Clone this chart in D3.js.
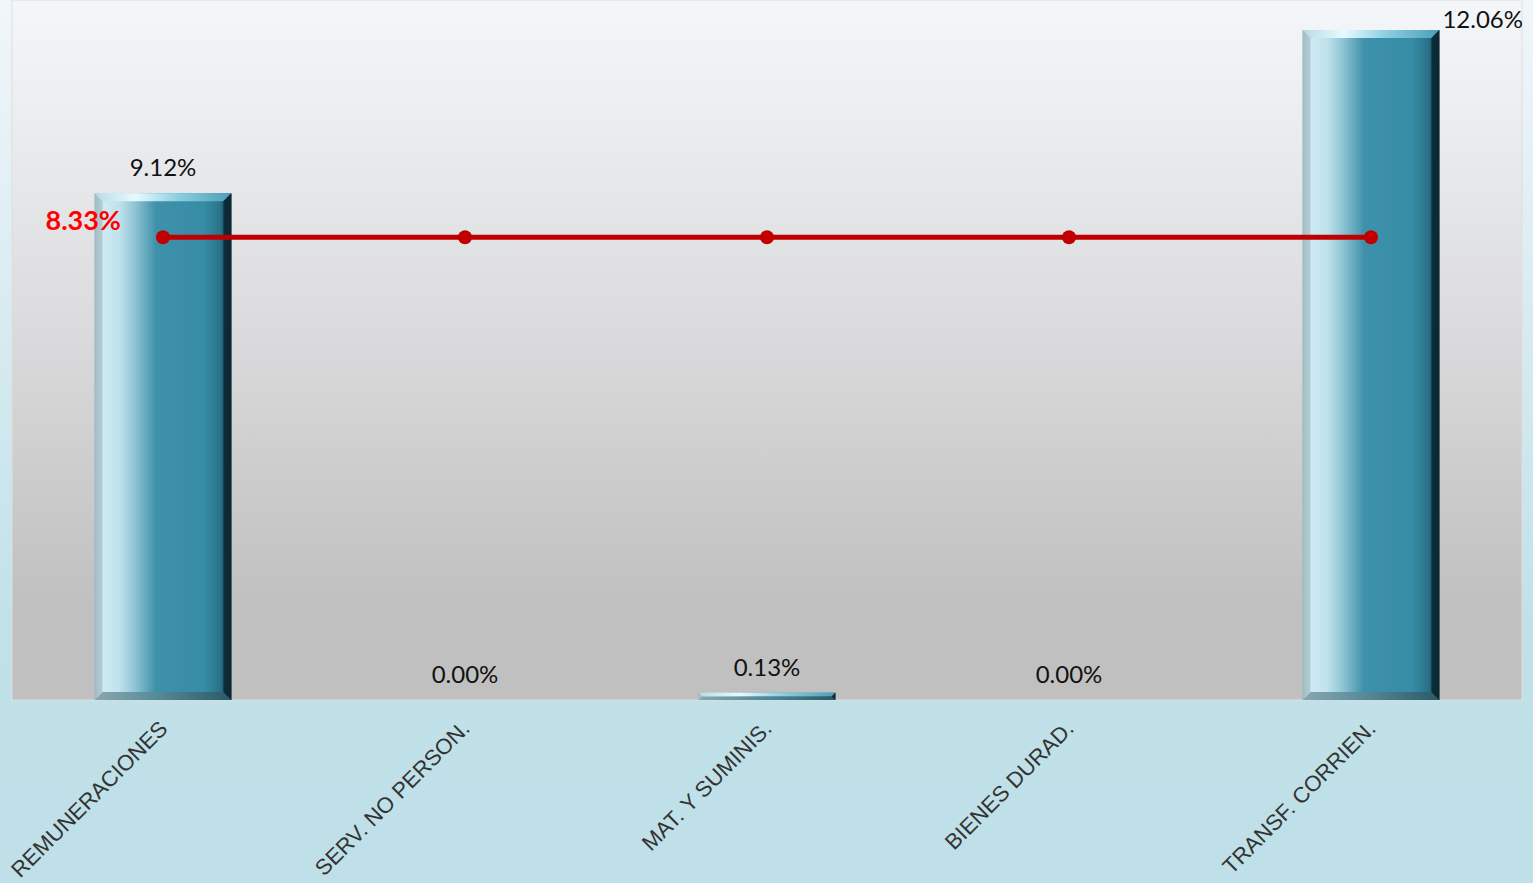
<!DOCTYPE html>
<html>
<head>
<meta charset="utf-8">
<script src="https://cdn.jsdelivr.net/npm/d3@7"></script>
<style>
  body { margin: 0; overflow: hidden; }
</style>
</head>
<body>
<script>
// data
var categories = ["REMUNERACIONES", "SERV. NO PERSON.", "MAT. Y SUMINIS.", "BIENES DURAD.", "TRANSF. CORRIEN."];
var barValues = [9.12, 0.00, 0.13, 0.00, 12.06];
var lineValues = [8.33, 8.33, 8.33, 8.33, 8.33];
var barLabels = ["9.12%", "0.00%", "0.13%", "0.00%", "12.06%"];
var lineLabel = "8.33%";

var w = 1533, h = 883;
var plot = {left: 12, right: 1522, top: 0, bottom: 700};

var svg = d3.select("body").append("svg")
    .attr("width", w)
    .attr("height", h);

var defs = svg.append("defs");

var outerGrad = defs.append("linearGradient").attr("id", "outerGrad")
    .attr("x1", 0).attr("y1", 0).attr("x2", 0).attr("y2", 1);
outerGrad.append("stop").attr("offset", "0%").attr("stop-color", "#f1f6fa");
outerGrad.append("stop").attr("offset", "70%").attr("stop-color", "#c1e1e9");
outerGrad.append("stop").attr("offset", "100%").attr("stop-color", "#bfe0e8");

var plotGrad = defs.append("linearGradient").attr("id", "plotGrad")
    .attr("x1", 0).attr("y1", 0).attr("x2", 0).attr("y2", 1);
plotGrad.append("stop").attr("offset", "0%").attr("stop-color", "#f4f7fa");
plotGrad.append("stop").attr("offset", "45%").attr("stop-color", "#dcdcde");
plotGrad.append("stop").attr("offset", "85%").attr("stop-color", "#c1c1c1");
plotGrad.append("stop").attr("offset", "100%").attr("stop-color", "#c0c0c0");

// bar face: light left, teal middle, dark right edge
var barGrad = defs.append("linearGradient").attr("id", "barGrad")
    .attr("x1", 0).attr("y1", 0).attr("x2", 1).attr("y2", 0);
barGrad.append("stop").attr("offset", "0%").attr("stop-color", "#8fa9b0");
barGrad.append("stop").attr("offset", "6%").attr("stop-color", "#cfebf3");
barGrad.append("stop").attr("offset", "18%").attr("stop-color", "#bfe2ec");
barGrad.append("stop").attr("offset", "30%").attr("stop-color", "#8cc2d2");
barGrad.append("stop").attr("offset", "45%").attr("stop-color", "#3e91aa");
barGrad.append("stop").attr("offset", "80%").attr("stop-color", "#378ca6");
barGrad.append("stop").attr("offset", "92%").attr("stop-color", "#2a7288");
barGrad.append("stop").attr("offset", "100%").attr("stop-color", "#0c2b36");

var topGrad = defs.append("linearGradient").attr("id", "topGrad")
    .attr("x1", 0).attr("y1", 0).attr("x2", 1).attr("y2", 0);
topGrad.append("stop").attr("offset", "0%").attr("stop-color", "#b8dbe4");
topGrad.append("stop").attr("offset", "30%").attr("stop-color", "#e6fbff");
topGrad.append("stop").attr("offset", "60%").attr("stop-color", "#8fd0e2");
topGrad.append("stop").attr("offset", "100%").attr("stop-color", "#4a9fb6");

var botGrad = defs.append("linearGradient").attr("id", "botGrad")
    .attr("x1", 0).attr("y1", 0).attr("x2", 1).attr("y2", 0);
botGrad.append("stop").attr("offset", "0%").attr("stop-color", "#8aa7b0");
botGrad.append("stop").attr("offset", "40%").attr("stop-color", "#5d8e9c");
botGrad.append("stop").attr("offset", "100%").attr("stop-color", "#2a5a68");

// backgrounds
svg.append("rect").attr("width", w).attr("height", h).attr("fill", "url(#outerGrad)");
svg.append("rect")
    .attr("x", plot.left).attr("y", plot.top)
    .attr("width", plot.right - plot.left).attr("height", plot.bottom - plot.top)
    .attr("fill", "url(#plotGrad)")
    .attr("stroke", "#e0dede").attr("stroke-width", 1);

// scales
var x = d3.scaleBand()
    .domain(categories)
    .range([plot.left, plot.right])
    .paddingInner(0.547)
    .paddingOuter(0.2735);

var y = d3.scaleLinear()
    .domain([0, 12.6])
    .range([plot.bottom, plot.top]);

// bars with bevel
var bars = svg.append("g").selectAll("g.bar")
    .data(categories.map((c, i) => ({cat: c, v: barValues[i], label: barLabels[i]})))
    .enter().append("g").attr("class", "bar");

bars.filter(d => d.v > 0).each(function (d) {
    var g = d3.select(this);
    var x0 = x(d.cat), x1 = x(d.cat) + x.bandwidth();
    var y0 = y(d.v), y1 = y(0);
    var b = Math.min(8, (y1 - y0) / 2);
    g.append("rect")
        .attr("x", x0).attr("y", y0)
        .attr("width", x1 - x0).attr("height", y1 - y0)
        .attr("fill", "url(#barGrad)");
    // top bevel
    g.append("path")
        .attr("d", `M${x0},${y0}L${x1},${y0}L${x1 - b},${y0 + b}L${x0 + b},${y0 + b}Z`)
        .attr("fill", "url(#topGrad)");
    // bottom bevel
    g.append("path")
        .attr("d", `M${x0},${y1}L${x1},${y1}L${x1 - b},${y1 - b}L${x0 + b},${y1 - b}Z`)
        .attr("fill", "url(#botGrad)");
    // left bevel
    g.append("path")
        .attr("d", `M${x0},${y0}L${x0 + b},${y0 + b}L${x0 + b},${y1 - b}L${x0},${y1}Z`)
        .attr("fill", "#a9c3ca").attr("opacity", 0.7);
    // right bevel
    g.append("path")
        .attr("d", `M${x1},${y0}L${x1 - b},${y0 + b}L${x1 - b},${y1 - b}L${x1},${y1}Z`)
        .attr("fill", "#0a2630").attr("opacity", 0.85);
});

// bar value labels
bars.append("text")
    .attr("x", (d, i) => i === 4 ? plot.right + 1 : x(d.cat) + x.bandwidth() / 2)
    .attr("y", (d, i) => i === 4 ? 28 : y(d.v) - 17)
    .attr("text-anchor", (d, i) => i === 4 ? "end" : "middle")
    .attr("font-family", "Lato, 'Open Sans', sans-serif")
    .attr("font-size", "24px")
    .attr("fill", "#111")
    .text(d => d.label);

// line series
var cx = d => x(d) + x.bandwidth() / 2;
var line = d3.line()
    .x((d, i) => cx(categories[i]))
    .y(d => y(d));

svg.append("path")
    .datum(lineValues)
    .attr("d", line)
    .attr("fill", "none")
    .attr("stroke", "#c00000")
    .attr("stroke-width", 5);

svg.append("g").selectAll("circle")
    .data(lineValues)
    .enter().append("circle")
    .attr("cx", (d, i) => cx(categories[i]))
    .attr("cy", d => y(d))
    .attr("r", 7)
    .attr("fill", "#c00000");

svg.append("text")
    .attr("x", cx(categories[0]) - 42)
    .attr("y", y(lineValues[0]) - 7)
    .attr("text-anchor", "end")
    .attr("font-family", "Lato, 'Open Sans', sans-serif")
    .attr("font-weight", "bold")
    .attr("font-size", "27px")
    .attr("fill", "#ff0000")
    .text(lineLabel);

// x axis labels
var xAxis = d3.axisBottom(x).tickSize(0).tickPadding(0);
var gx = svg.append("g")
    .attr("transform", "translate(0," + plot.bottom + ")")
    .call(xAxis);
gx.select(".domain").remove();
gx.selectAll(".tick text")
    .attr("font-family", "'Liberation Sans', Arial, sans-serif")
    .attr("font-size", "22px")
    .attr("fill", "#333")
    .attr("text-anchor", "end")
    .attr("dy", null)
    .attr("y", null)
    .attr("transform", "translate(6,30) rotate(-45)");
</script>
</body>
</html>
